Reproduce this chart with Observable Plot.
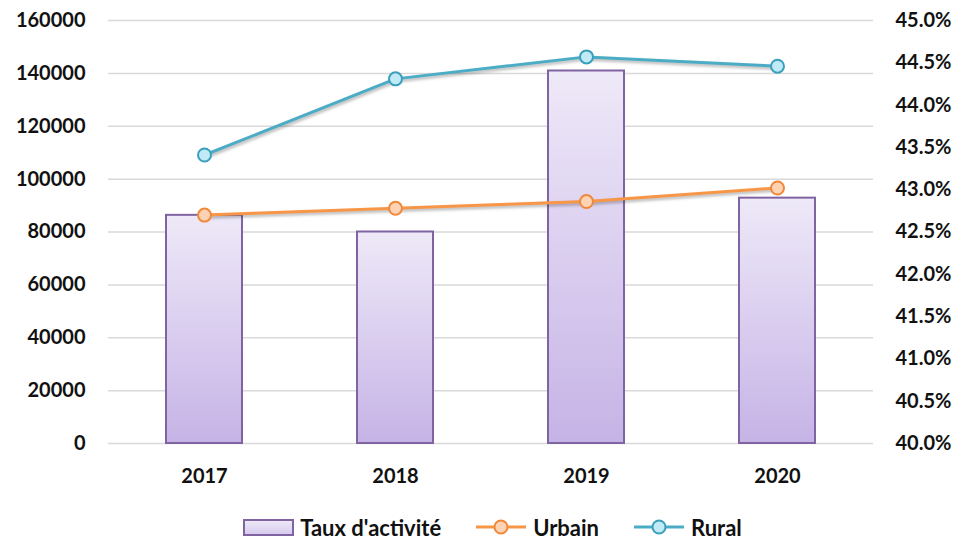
<!DOCTYPE html>
<html>
<head>
<meta charset="utf-8">
<script src="https://cdn.jsdelivr.net/npm/d3@7"></script>
<script src="https://cdn.jsdelivr.net/npm/@observablehq/plot@0.6"></script>
<style>
  html, body { margin: 0; padding: 0; background: #fff; }
  body { width: 965px; height: 545px; overflow: hidden; font-family: Lato, "Open Sans", sans-serif; }
  #legend { display: flex; justify-content: center; align-items: center; height: 36px; padding-top: 14px; padding-left: 20px; font-weight: 700; font-size: 22px; color: #111; }
  .item { display: flex; align-items: center; }
  .swatch { width: 47px; height: 13px; border: 2px solid #8064a2; background: linear-gradient(#ede8f7, #d7cbef); margin-right: 6px; }
</style>
</head>
<body>
<div id="chart"></div>
<div id="legend"></div>
<script>
const years = ["2017", "2018", "2019", "2020"];
const taux = [86300, 80000, 140900, 92800];
const urbain = [42.70, 42.78, 42.86, 43.02];
const rural = [43.41, 44.31, 44.57, 44.46];
const leftTicks = [0, 20000, 40000, 60000, 80000, 100000, 120000, 140000, 160000];
const rightTicks = [40, 40.5, 41, 41.5, 42, 42.5, 43, 43.5, 44, 44.5, 45];

const pMin = 40, pMax = 45, yMax = 160000;
const toY = p => (p - pMin) / (pMax - pMin) * yMax;

const bars = years.map((y, i) => ({year: y, value: taux[i]}));
const urb = years.map((y, i) => ({year: y, v: toY(urbain[i])}));
const rur = years.map((y, i) => ({year: y, v: toY(rural[i])}));

const font = "Lato, 'Open Sans', sans-serif";
const shadow = "drop-shadow(1px 2px 1.5px rgba(0,0,0,0.3))";

const chart = Plot.plot({
  width: 965,
  height: 495,
  marginLeft: 108,
  marginRight: 92,
  marginTop: 20,
  marginBottom: 52,
  style: {fontFamily: font, fontSize: "20px", fontWeight: 700, color: "#111", background: "#fff", overflow: "visible"},
  x: {domain: years, paddingInner: 0.6, paddingOuter: 0.3, label: null},
  y: {domain: [0, yMax], label: null},
  marks: [
    Plot.gridY(leftTicks, {stroke: "#d9d9d9", strokeOpacity: 1, strokeWidth: 1.5}),
    Plot.axisY(leftTicks, {anchor: "left", tickSize: 0, tickPadding: 23, label: null, tickFormat: d => String(d)}),
    Plot.axisY(rightTicks.map(toY), {anchor: "right", tickSize: 0, tickPadding: 22, label: null,
      tickFormat: d => (pMin + d / yMax * (pMax - pMin)).toFixed(1) + "%"}),
    Plot.axisX({tickSize: 0, tickPadding: 25, label: null}),
    Plot.barY(bars, {x: "year", y: "value", fill: "url(#barGrad)", stroke: "#8064a2", strokeWidth: 2,
      style: {filter: "drop-shadow(1px 1px 1px rgba(0,0,0,0.2))"}}),
    Plot.lineY(urb, {x: "year", y: "v", stroke: "#f79646", strokeWidth: 3}),
    Plot.lineY(rur, {x: "year", y: "v", stroke: "#4bacc6", strokeWidth: 3}),
    Plot.dot(urb, {x: "year", y: "v", r: 6.5, fill: "#fdd3b4", stroke: "#f0883a", strokeWidth: 2}),
    Plot.dot(rur, {x: "year", y: "v", r: 6.5, fill: "#bfeaf6", stroke: "#3a9fbb", strokeWidth: 2})
  ]
});

// gradient definition for bars
const ns = "http://www.w3.org/2000/svg";
const defs = document.createElementNS(ns, "defs");
defs.innerHTML = `<linearGradient id="barGrad" x1="0" y1="0" x2="0" y2="1">
  <stop offset="0" stop-color="#eee9f8"/><stop offset="1" stop-color="#c6b3e6"/></linearGradient>`;
chart.insertBefore(defs, chart.firstChild);
// shadows on the lines
chart.querySelectorAll("g[aria-label='line']").forEach(g => g.style.filter = shadow);

document.getElementById("chart").appendChild(chart);

// legend
const legend = document.getElementById("legend");
function lineSwatch(color, fill, stroke) {
  return `<svg width="52" height="18" style="margin-right:6px"><line x1="1" x2="51" y1="9" y2="9" stroke="${color}" stroke-width="3"/>
  <circle cx="26" cy="9" r="6.5" fill="${fill}" stroke="${stroke}" stroke-width="2"/></svg>`;
}
legend.innerHTML = `
  <div class="item" style="margin-right:34px"><div class="swatch"></div><span>Taux d'activité</span></div>
  <div class="item" style="margin-right:34px">${lineSwatch("#f79646", "#fdd3b4", "#f0883a")}<span>Urbain</span></div>
  <div class="item">${lineSwatch("#4bacc6", "#bfeaf6", "#3a9fbb")}<span>Rural</span></div>`;
</script>
</body>
</html>
